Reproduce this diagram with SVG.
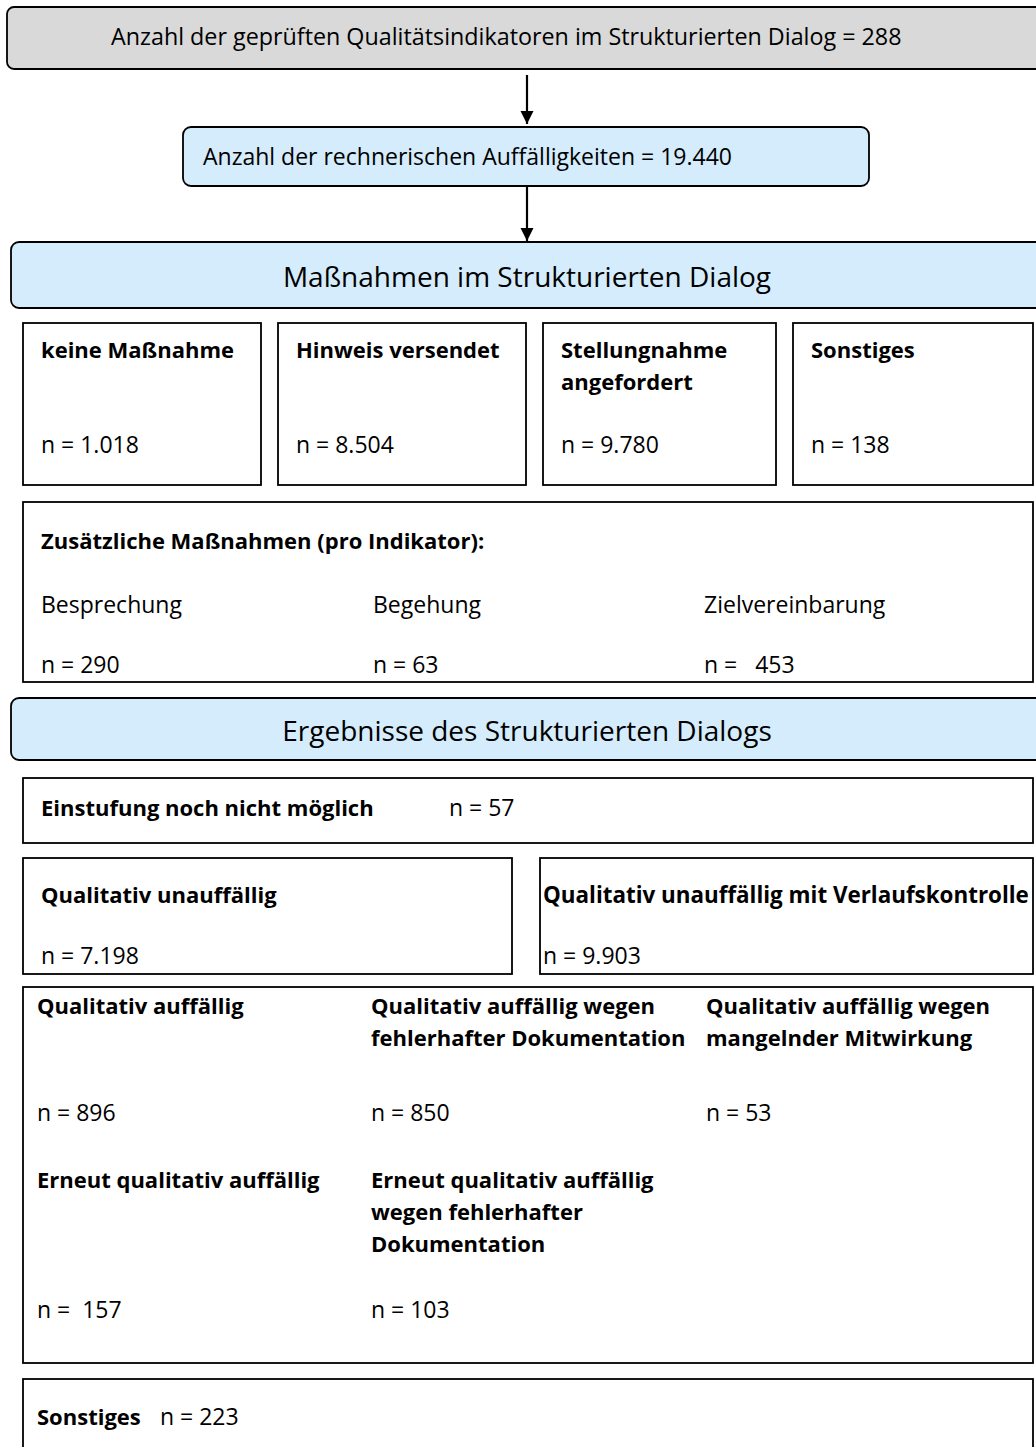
<svg xmlns="http://www.w3.org/2000/svg" width="1036" height="1447" viewBox="0 0 1036 1447">
<defs>
<style>
text{font-family:"Open Sans","Liberation Sans",sans-serif;fill:#000}
.r{font-size:23px}
.b{font-size:22px;font-weight:bold}
.t{font-size:23.3px}
.m{font-size:23px}
.h{font-size:28px}
.box{fill:#fff;stroke:#000;stroke-width:1.8}
.gray{fill:#d9d9d9;stroke:#000;stroke-width:1.8}
.blue{fill:#d4ecfb;stroke:#000;stroke-width:1.8}
.conn{stroke:#000;stroke-width:2.2;fill:none}
</style>
<marker id="ah" viewBox="0 0 10 10" refX="10" refY="5" markerWidth="6" markerHeight="7" markerUnits="strokeWidth" orient="auto">
<path d="M0,0 L10,5 L0,10 z" fill="#000"/>
</marker>
</defs>
<rect width="1036" height="1447" fill="#fff"/>

<g id="connectors">
<line class="conn" x1="527" y1="75" x2="527" y2="124" marker-end="url(#ah)"/>
<line class="conn" x1="527" y1="186" x2="527" y2="241" marker-end="url(#ah)"/>
</g>

<g id="n-top">
<rect class="gray" x="7" y="7" width="1045" height="62" rx="7"/>
<text class="t" x="111" y="45">Anzahl der geprüften Qualitätsindikatoren im Strukturierten Dialog = 288</text>
</g>

<g id="n-rechn">
<rect class="blue" x="183" y="127" width="686" height="59" rx="8"/>
<text class="m" x="203" y="165">Anzahl der rechnerischen Auffälligkeiten = 19.440</text>
</g>

<g id="n-massnahmen">
<rect class="blue" x="11" y="242" width="1045" height="66" rx="8"/>
<text class="h" x="527" y="287" text-anchor="middle">Maßnahmen im Strukturierten Dialog</text>
</g>

<g id="n-keine">
<rect class="box" x="23" y="323" width="238" height="162"/>
<text class="b" x="41" y="358">keine Maßnahme</text>
<text class="r" x="41" y="453">n = 1.018</text>
</g>
<g id="n-hinweis">
<rect class="box" x="278" y="323" width="248" height="162"/>
<text class="b" x="296" y="358">Hinweis versendet</text>
<text class="r" x="296" y="453">n = 8.504</text>
</g>
<g id="n-stellung">
<rect class="box" x="543" y="323" width="233" height="162"/>
<text class="b" x="561" y="358">Stellungnahme</text>
<text class="b" x="561" y="390">angefordert</text>
<text class="r" x="561" y="453">n = 9.780</text>
</g>
<g id="n-sonst1">
<rect class="box" x="793" y="323" width="240" height="162"/>
<text class="b" x="811" y="358">Sonstiges</text>
<text class="r" x="811" y="453">n = 138</text>
</g>

<g id="n-zusatz">
<rect class="box" x="23" y="502" width="1010" height="180"/>
<text class="b" x="41" y="549">Zusätzliche Maßnahmen (pro Indikator):</text>
<text class="r" x="41" y="613">Besprechung</text>
<text class="r" x="373" y="613">Begehung</text>
<text class="r" x="704" y="613">Zielvereinbarung</text>
<text class="r" x="41" y="673">n = 290</text>
<text class="r" x="373" y="673">n = 63</text>
<text class="r" x="704" y="673" xml:space="preserve">n =   453</text>
</g>

<g id="n-ergebnisse">
<rect class="blue" x="11" y="698" width="1045" height="62" rx="8"/>
<text class="h" x="527" y="741" text-anchor="middle">Ergebnisse des Strukturierten Dialogs</text>
</g>

<g id="n-einstufung">
<rect class="box" x="23" y="778" width="1010" height="65"/>
<text class="b" x="41" y="816">Einstufung noch nicht möglich</text>
<text class="r" x="449" y="816">n = 57</text>
</g>

<g id="n-unauff">
<rect class="box" x="23" y="858" width="489" height="116"/>
<text class="b" x="41" y="903">Qualitativ unauffällig</text>
<text class="r" x="41" y="964">n = 7.198</text>
</g>
<g id="n-unauff-verlauf">
<rect class="box" x="540" y="858" width="493" height="116"/>
<text class="b" x="543" y="903" style="font-size:22.4px">Qualitativ unauffällig mit Verlaufskontrolle</text>
<text class="r" x="543" y="964">n = 9.903</text>
</g>

<g id="n-auff">
<rect class="box" x="23" y="987" width="1010" height="376"/>
<text class="b" x="37" y="1014">Qualitativ auffällig</text>
<text class="r" x="37" y="1121">n = 896</text>
<text class="b" x="371" y="1014">Qualitativ auffällig wegen</text>
<text class="b" x="371" y="1046">fehlerhafter Dokumentation</text>
<text class="r" x="371" y="1121">n = 850</text>
<text class="b" x="706" y="1014">Qualitativ auffällig wegen</text>
<text class="b" x="706" y="1046">mangelnder Mitwirkung</text>
<text class="r" x="706" y="1121">n = 53</text>
<text class="b" x="37" y="1188">Erneut qualitativ auffällig</text>
<text class="r" x="37" y="1318" xml:space="preserve">n =  157</text>
<text class="b" x="371" y="1188">Erneut qualitativ auffällig</text>
<text class="b" x="371" y="1220">wegen fehlerhafter</text>
<text class="b" x="371" y="1252">Dokumentation</text>
<text class="r" x="371" y="1318">n = 103</text>
</g>

<g id="n-sonst2">
<rect class="box" x="23" y="1379" width="1010" height="100"/>
<text class="b" x="37" y="1425">Sonstiges</text>
<text class="r" x="160" y="1425">n = 223</text>
</g>
</svg>
